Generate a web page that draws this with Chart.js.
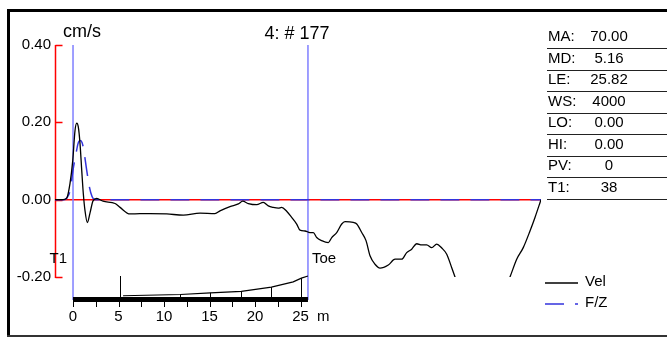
<!DOCTYPE html>
<html>
<head>
<meta charset="utf-8">
<script src="https://cdn.jsdelivr.net/npm/chart.js@4.4.0/dist/chart.umd.min.js"></script>
<style>
  html, body { margin: 0; padding: 0; background: #fff; }
  #wrap { position: relative; width: 667px; height: 337px; }
</style>
</head>
<body>
<div id="wrap"><canvas id="pileChart"></canvas></div>
<script>
'use strict';

// velocity trace (distance along pile in m, velocity in cm/s)
const velDist = [-1.98, -1.10, -0.69, -0.33, -0.03, 0.22, 0.41, 0.58, 0.77, 0.96, 1.13, 1.32, 1.57, 1.87, 2.20, 2.60, 3.30, 4.62, 5.17, 6.26,
  7.36, 8.46, 10.30, 12.12, 13.96, 15.60, 16.15, 17.25, 18.17, 18.65, 19.26, 20.19, 20.91, 21.46, 22.01, 22.56, 22.93, 23.48, 24.03, 24.58,
  24.95, 25.50, 26.04, 26.41, 26.78, 27.33, 28.06, 28.43, 28.98, 29.53, 29.89, 30.80, 31.18, 31.73, 32.20, 32.64, 33.19, 33.74, 34.65, 35.39,
  36.12, 36.67, 37.22, 37.77, 38.32, 38.87, 39.42, 39.97, 40.52, 41.07, 41.62, 41.98, 42.53, 44.73, 46.92, 48.02, 48.76, 49.48, 50.22, 50.77, 51.43];
const velValues = [0, 0, 0.004, 0.042, 0.101, 0.179, 0.198, 0.188, 0.145, 0.075, 0.016, -0.029, -0.059, -0.034, -0.003, 0.003, -0.004, -0.010, -0.020, -0.037,
  -0.036, -0.036, -0.037, -0.040, -0.035, -0.036, -0.029, -0.018, -0.011, -0.004, -0.010, -0.013, -0.007, -0.016, -0.020, -0.022, -0.020, -0.030, -0.046, -0.063,
  -0.079, -0.081, -0.085, -0.085, -0.098, -0.106, -0.111, -0.098, -0.085, -0.063, -0.057, -0.059, -0.063, -0.085, -0.106, -0.145, -0.167, -0.177, -0.169, -0.154,
  -0.154, -0.137, -0.128, -0.114, -0.117, -0.117, -0.124, -0.115, -0.125, -0.141, -0.176, -0.200, -0.236, -0.288, -0.262, -0.200, -0.154, -0.124, -0.081, -0.046, 0];

// force / impedance trace
const fzDist = [-1.98, -0.99, -0.66, -0.33, 0.03, 0.33, 0.55, 0.77, 0.99, 1.13, 1.51, 1.79, 2.09, 2.42, 51.43];
const fzValues = [0, 0, 0.005, 0.023, 0.081, 0.119, 0.145, 0.153, 0.148, 0.135, 0.075, 0.034, 0.008, 0, 0];

const distTicks = [0, 5, 10, 15, 20, 25];
const velTicks = [-0.2, 0, 0.2, 0.4];

const pileLength = 25.82;
const markerDist = [0, pileLength];
const markerNames = ['T1', 'Toe'];

// pile profile drawn above the ruler (relative height 0..1)
const profileDist = [5.5, 11.8, 15.1, 18.5, 21.8, 24.2, 25.1, 25.82];
const profileHeight = [0.06, 0.12, 0.2, 0.27, 0.47, 0.72, 0.9, 1.0];
const profileMarks = [11.8, 15.1, 18.5, 21.8, 25.1];
const profileMarkHeight = [0.12, 0.2, 0.27, 0.47, 0.9];
const depthMark = 5.16;
const rulerStep = 2.5;

const paramNames = ['MA:', 'MD:', 'LE:', 'WS:', 'LO:', 'HI:', 'PV:', 'T1:'];
const paramValues = ['70.00', '5.16', '25.82', '4000', '0.00', '0.00', '0', '38'];

const chartTitle = '4: # 177';
const yUnit = 'cm/s';
const xUnit = 'm';

const FONT = '"Liberation Sans", Arial, sans-serif';
Chart.defaults.font.family = FONT;

const pileDecor = {
  id: 'pileDecor',
  beforeDraw(chart) {
    const ctx = chart.ctx;
    ctx.save();
    ctx.fillStyle = '#000';
    ctx.fillRect(7, 9, chart.width - 7, 3);
    ctx.fillRect(7, 9, 3, chart.height - 9);
    ctx.fillStyle = '#333';
    ctx.fillRect(7, 335, chart.width - 7, 2);
    ctx.restore();
  },
  beforeDatasetsDraw(chart) {
    const {ctx, chartArea: a, scales: {x, y}} = chart;
    const barTop = a.bottom + 20;
    ctx.save();
    // zero line
    const y0 = y.getPixelForValue(0);
    ctx.strokeStyle = '#ff0000';
    ctx.lineWidth = 1.5;
    ctx.beginPath();
    ctx.moveTo(a.left, y0);
    ctx.lineTo(a.right, y0);
    ctx.stroke();
    // red axis with ticks pointing into the plot
    ctx.beginPath();
    const ax = Math.round(a.left) + 0.5;
    ctx.moveTo(ax, Math.round(a.top));
    ctx.lineTo(ax, Math.round(a.bottom) + 1);
    velTicks.forEach(v => {
      const py = Math.round(y.getPixelForValue(v)) + 0.5;
      ctx.moveTo(ax, py);
      ctx.lineTo(ax + 7, py);
    });
    ctx.stroke();
    // T1 / toe markers
    ctx.strokeStyle = '#8080ff';
    ctx.lineWidth = 1.5;
    ctx.beginPath();
    markerDist.forEach(d => {
      const px = x.getPixelForValue(d);
      ctx.moveTo(px, a.top);
      ctx.lineTo(px, barTop + 3);
    });
    ctx.stroke();
    ctx.restore();
  },
  afterDraw(chart) {
    const {ctx, chartArea: a, scales: {x}} = chart;
    const barTop = a.bottom + 20;
    const profH = 21;
    ctx.save();
    ctx.fillStyle = '#000';
    ctx.strokeStyle = '#000';

    // titles
    ctx.font = '18px ' + FONT;
    ctx.textBaseline = 'alphabetic';
    ctx.textAlign = 'left';
    ctx.fillText(yUnit, 63, 37);
    ctx.textAlign = 'center';
    ctx.fillText(chartTitle, 297, 39);

    // marker names
    ctx.font = '15px ' + FONT;
    ctx.textBaseline = 'middle';
    ctx.textAlign = 'right';
    ctx.fillText(markerNames[0], x.getPixelForValue(markerDist[0]) - 6, 259);
    ctx.textAlign = 'left';
    ctx.fillText(markerNames[1], x.getPixelForValue(markerDist[1]) + 4, 259);

    // ruler bar
    const x0 = x.getPixelForValue(0);
    const xt = x.getPixelForValue(pileLength);
    ctx.fillRect(x0, barTop, xt - x0, 5);
    ctx.lineWidth = 1;
    ctx.beginPath();
    for (let d = 0; d <= pileLength; d += rulerStep) {
      const px = Math.round(x.getPixelForValue(d)) + 0.5;
      ctx.moveTo(px, barTop + 5);
      ctx.lineTo(px, barTop + 10);
    }
    // profile marks
    profileMarks.forEach((d, i) => {
      const px = Math.round(x.getPixelForValue(d)) + 0.5;
      ctx.moveTo(px, barTop);
      ctx.lineTo(px, barTop - profileMarkHeight[i] * profH);
    });
    const pm = Math.round(x.getPixelForValue(depthMark)) + 0.5;
    ctx.moveTo(pm, barTop);
    ctx.lineTo(pm, barTop - profH);
    ctx.stroke();
    ctx.lineWidth = 1.2;
    ctx.beginPath();
    profileDist.forEach((d, i) => {
      const px = x.getPixelForValue(d);
      const py = barTop - profileHeight[i] * profH;
      if (i) ctx.lineTo(px, py); else ctx.moveTo(px, py);
    });
    ctx.stroke();

    // unit of distance axis
    ctx.textAlign = 'left';
    ctx.fillText(xUnit, xt + 9, 317);

    // parameter table
    const tx = a.right + 6;
    ctx.lineWidth = 1;
    ctx.strokeStyle = '#222';
    paramNames.forEach((name, i) => {
      const cy = 37 + i * 21.5;
      ctx.textAlign = 'left';
      ctx.fillText(name, tx + 1, cy);
      ctx.textAlign = 'center';
      ctx.fillText(paramValues[i], tx + 62, cy);
      const ly = Math.round(cy + 11) + 0.5;
      ctx.beginPath();
      ctx.moveTo(tx, ly);
      ctx.lineTo(chart.width, ly);
      ctx.stroke();
    });

    // legend
    chart.data.datasets.forEach((ds, i) => {
      const ly = 283 + i * 21;
      ctx.strokeStyle = ds.borderColor;
      ctx.lineWidth = ds.borderWidth;
      ctx.setLineDash(ds.borderDash || []);
      ctx.beginPath();
      ctx.moveTo(a.right + 4, ly);
      ctx.lineTo(a.right + 37, ly);
      ctx.stroke();
      ctx.setLineDash([]);
      ctx.textAlign = 'left';
      ctx.fillText(ds.label, a.right + 44, ly - 1);
    });
    ctx.restore();
  }
};

const ctx = document.getElementById('pileChart').getContext('2d');

new Chart(ctx, {
  type: 'line',
  data: {
    datasets: [{
      label: 'Vel',
      data: velDist.map((d, i) => ({x: d, y: velValues[i]})),
      borderColor: '#000000',
      borderWidth: 1.3,
      cubicInterpolationMode: 'monotone',
      pointRadius: 0,
      fill: false
    }, {
      label: 'F/Z',
      data: fzDist.map((d, i) => ({x: d, y: fzValues[i]})),
      borderColor: '#3333dd',
      borderWidth: 1.5,
      borderDash: [19, 11],
      cubicInterpolationMode: 'monotone',
      pointRadius: 0,
      fill: false
    }]
  },
  options: {
    responsive: true,
    maintainAspectRatio: false,
    animation: false,
    layout: {
      padding: {top: 45, right: 126, left: 0, bottom: 0}
    },
    plugins: {
      legend: {display: false},
      tooltip: {enabled: false}
    },
    scales: {
      x: {
        type: 'linear',
        min: -1.98,
        max: 51.43,
        grid: {display: false, drawTicks: false},
        border: {display: false},
        afterBuildTicks: s => { s.ticks = distTicks.map(v => ({value: v})); },
        afterFit: s => { s.height = 60; },
        ticks: {
          padding: 31,
          autoSkip: false,
          maxRotation: 0,
          color: '#000',
          font: {size: 15}
        }
      },
      y: {
        min: -0.2,
        max: 0.4,
        grid: {display: false, drawTicks: false},
        border: {display: false},
        afterBuildTicks: s => { s.ticks = velTicks.map(v => ({value: v})); },
        afterFit: s => { s.width = 55; },
        ticks: {
          padding: 4,
          color: '#000',
          font: {size: 15},
          callback: v => v.toFixed(2)
        }
      }
    }
  },
  plugins: [pileDecor]
});
</script>
</body>
</html>
